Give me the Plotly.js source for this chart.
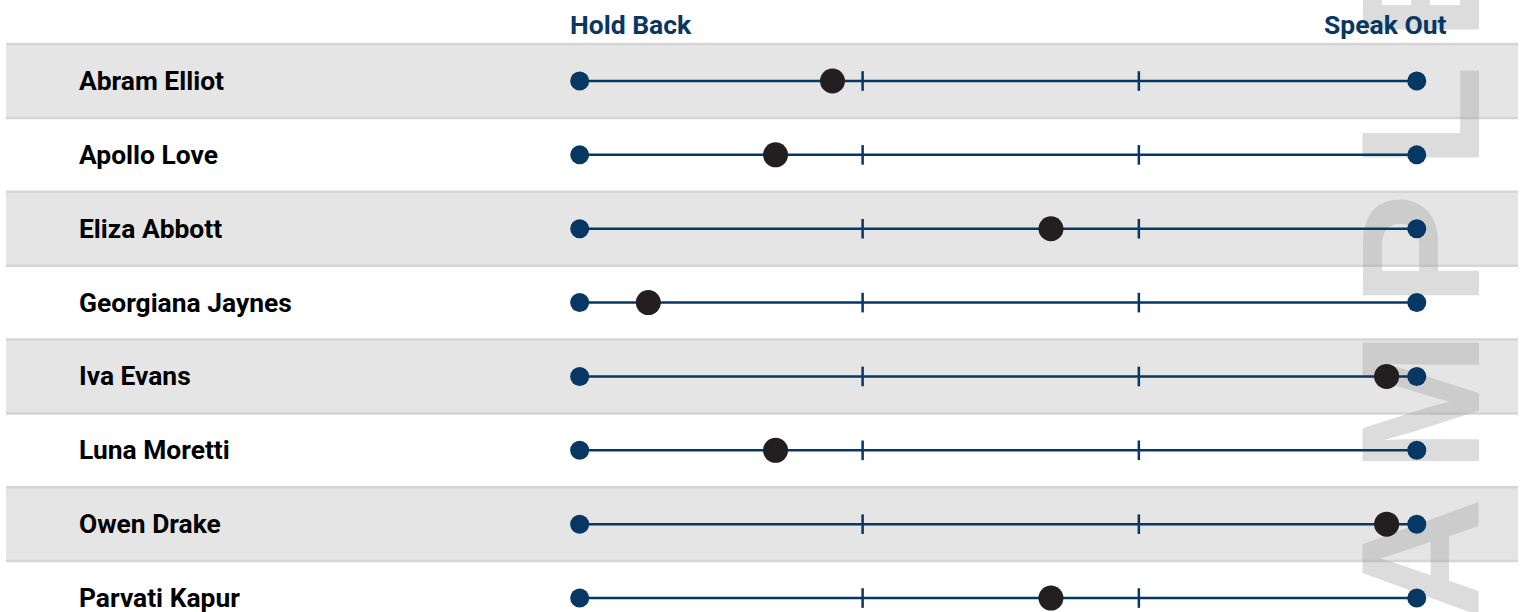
<!DOCTYPE html>
<html>
<head>
<meta charset="utf-8">
<script src="https://cdn.plot.ly/plotly-3.0.1.min.js"></script>
<style>
html,body{margin:0;padding:0;background:#fff;}
#chart{width:1525px;height:612px;}
</style>
</head>
<body>
<div id="chart"></div>
<script>
// ---- data ----
const names = ["Abram Elliot","Apollo Love","Eliza Abbott","Georgiana Jaynes","Iva Evans","Luna Moretti","Owen Drake","Parvati Kapur"];
const scores = [30.2, 23.4, 56.3, 8.2, 96.4, 23.4, 96.4, 56.3];
const scaleMin = 0;
const scaleMax = 100;
const tickMarks = [33.8, 66.8];
const leftLabel = "Hold Back";
const rightLabel = "Speak Out";
const watermark = "SAMPLE";

// ---- styles ----
const NAVY = "#073763";
const DOT = "#231f20";
const BAND = "#e5e5e5";
const BAND_LINE = "#d5d5d5";
const W = 1525, H = 612;

const rows = names.map((_, i) => i);

const lx = [], ly = [];
rows.forEach(i => { lx.push(scaleMin, scaleMax, null); ly.push(i, i, null); });
const tx = [], ty = [];
rows.forEach(i => tickMarks.forEach(t => { tx.push(t); ty.push(i); }));
const ex = [], ey = [];
rows.forEach(i => { ex.push(scaleMin, scaleMax); ey.push(i, i); });

const traces = [
  {x: lx, y: ly, mode: "lines", line: {color: NAVY, width: 2.5}, hoverinfo: "skip", showlegend: false},
  {x: tx, y: ty, mode: "markers", marker: {symbol: "line-ns", size: 14, line: {color: NAVY, width: 2.5}}, hoverinfo: "skip", showlegend: false},
  {x: ex, y: ey, mode: "markers", marker: {color: NAVY, size: 19}, hoverinfo: "skip", showlegend: false},
  {x: scores, y: rows, mode: "markers", marker: {color: DOT, size: 25}, text: names, hoverinfo: "text+x", showlegend: false}
];

const shapes = [];
rows.forEach(i => {
  if (i % 2 === 0) {
    shapes.push({type: "rect", layer: "below", xref: "paper", yref: "y",
      x0: 6/W, x1: 1518/W, y0: i - 0.5, y1: i + 0.5,
      fillcolor: BAND, line: {width: 0}});
    [i - 0.5, i + 0.5].forEach(yy => shapes.push({type: "line", layer: "below", xref: "paper", yref: "y",
      x0: 6/W, x1: 1518/W, y0: yy, y1: yy, line: {color: BAND_LINE, width: 2.5}}));
  }
});
// watermark drawn beneath the data marks
const wmCenter = 330;
shapes.push({type: "rect", layer: "below", xref: "paper", yref: "paper",
  x0: 1344/W, x1: 1465/W, y0: 1 - (wmCenter + 400)/H, y1: 1 - (wmCenter - 400)/H,
  fillcolor: "rgba(0,0,0,0)", line: {width: 0},
  label: {text: "<b>" + watermark + "</b>", textangle: -90, textposition: "middle center",
    font: {family: "Liberation Sans, Arial, sans-serif", size: 169, color: "rgba(164,164,164,0.385)"}}
});

const annotations = names.map((n, i) => ({
  xref: "paper", yref: "y", x: 77/W, y: i, xanchor: "left", yanchor: "middle",
  text: "<b>" + n + "</b>", showarrow: false,
  font: {family: "Roboto, Arial, sans-serif", size: 26.4, color: "#000"}
}));
annotations.push({xref: "paper", yref: "paper", x: 568/W, y: 1 - 25/H, xanchor: "left", yanchor: "middle",
  text: "<b>" + leftLabel + "</b>", showarrow: false,
  font: {family: "Roboto, Arial, sans-serif", size: 26.5, color: NAVY}});
annotations.push({xref: "paper", yref: "paper", x: 1449/W, y: 1 - 25/H, xanchor: "right", yanchor: "middle",
  text: "<b>" + rightLabel + "</b>", showarrow: false,
  font: {family: "Roboto, Arial, sans-serif", size: 26.5, color: NAVY}});

const layout = {
  width: W, height: H,
  margin: {l: 0, r: 0, t: 0, b: 0},
  paper_bgcolor: "#ffffff", plot_bgcolor: "rgba(0,0,0,0)",
  xaxis: {range: [-69.25, 112.93], visible: false, fixedrange: true},
  yaxis: {range: [7.189, -1.0967], visible: false, fixedrange: true},
  shapes: shapes,
  annotations: annotations,
  showlegend: false
};

Plotly.newPlot("chart", traces, layout, {displayModeBar: false, staticPlot: true}).then(gd => {
  gd.querySelectorAll("text").forEach(t => {
    if (t.textContent === watermark) t.style.letterSpacing = "25px";
  });
});
</script>
</body>
</html>
